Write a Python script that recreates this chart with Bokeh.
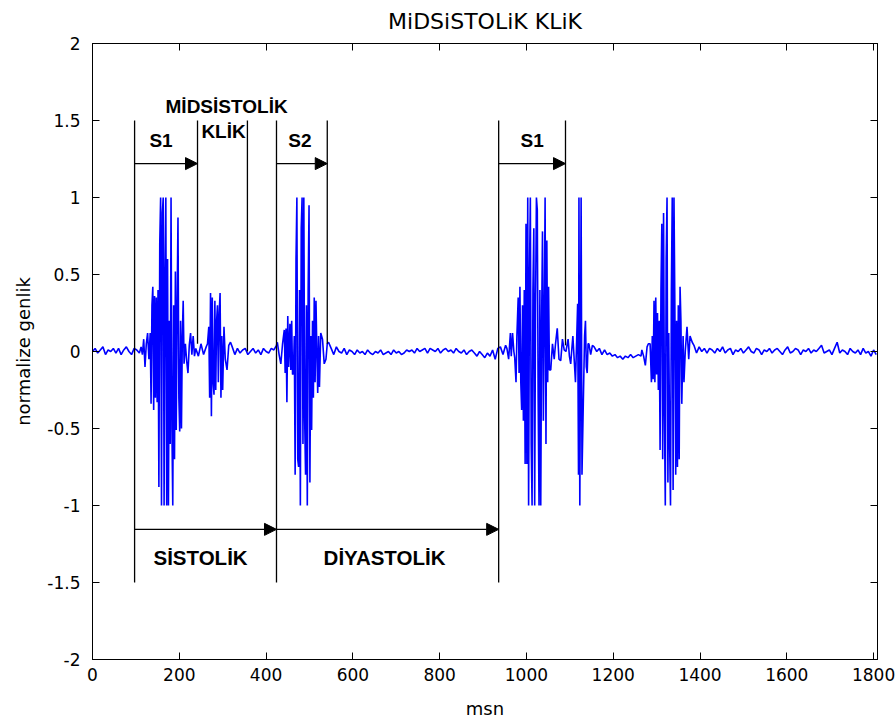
import numpy as np
from bokeh.plotting import figure
from bokeh.models import Range1d, LinearAxis, FixedTicker, Arrow, NormalHead, CustomLabelingPolicy
from bokeh.core.properties import value
from bokeh.embed import file_html
from bokeh.resources import INLINE

# ---------------- data ----------------
title_text = "MiDSiSTOLiK KLiK"
x_label = "msn"
y_label = "normalize genlik"

x_ticks = [0, 200, 400, 600, 800, 1000, 1200, 1400, 1600, 1800]
y_ticks = [-2, -1.5, -1, -0.5, 0, 0.5, 1, 1.5, 2]
y_tick_labels = ["-2", "-1.5", "-1", "-0.5", "0", "0.5", "1", "1.5", "2"]

# quiet (baseline) stretches: start time, sample step, amplitudes
quiet_a_start, quiet_a_step = 0, 6
quiet_a = [0.00, 0.02, -0.01, 0.01, 0.03, -0.02, 0.01, 0.00, 0.02, -0.01,
           0.02, -0.02, 0.01, 0.03, 0.00, -0.02, 0.02, 0.01, -0.01]
quiet_b_start, quiet_b_step = 238, 6
quiet_b = [0.02, -0.03, 0.05, -0.02, 0.03]
quiet_c_start, quiet_c_step = 322, 6
quiet_c = [0.03, -0.02, 0.02, -0.01, 0.01, 0.02, -0.02, 0.00, 0.02, -0.01,
           0.01, -0.02, 0.02, 0.00, -0.01, 0.02, 0.01, 0.04]
quiet_d_start, quiet_d_step = 550, 6
quiet_d = [0.02, -0.02, 0.03, 0.00, -0.01, 0.02, -0.02, 0.01, 0.00, -0.02,
           0.01, -0.01, 0.00, -0.02, 0.01, -0.01, -0.02, 0.00, -0.01, 0.01,
           -0.02, -0.01, 0.00, -0.02, 0.01, -0.01, 0.00, -0.02, -0.01, 0.01,
           0.00, 0.01, -0.01, 0.02, 0.00, 0.01, 0.02, -0.01, 0.02, 0.01,
           0.00, 0.02, -0.01, 0.01, 0.02, 0.00, 0.01, -0.01, 0.02, 0.00,
           -0.01, 0.01, -0.02, 0.00, 0.01, -0.01, -0.03, 0.00, -0.02, -0.04,
           -0.01, -0.03, 0.01, -0.05, 0.02, 0.03, -0.02, 0.04]
quiet_f_start, quiet_f_step = 1156, 6
quiet_f = [0.03, 0.00, 0.02, -0.02, 0.01, -0.02, -0.01, -0.03, -0.02, -0.04,
           -0.03, -0.05, -0.03, -0.04, -0.02, -0.04, -0.03, -0.02, -0.03]
quiet_g_start, quiet_g_step = 1386, 6
quiet_g = [0.04, -0.01, 0.03, 0.00, 0.02, -0.01, 0.02, 0.01, -0.01, 0.02,
           0.00, 0.03, -0.01, 0.01, 0.02, -0.02, 0.01, 0.00, 0.02, -0.01,
           0.01, 0.03, 0.00, -0.01, 0.02, 0.01, -0.02, 0.01, 0.00, 0.02,
           -0.01, 0.01, 0.02, 0.00, -0.02, 0.01, 0.03, -0.01, 0.00, 0.02,
           0.01, -0.02, 0.01, 0.00, 0.02, -0.01, 0.01, 0.00, 0.02, 0.04,
           -0.01, 0.00, 0.01, -0.02, 0.02, 0.06, -0.01, 0.01, 0.00, -0.02,
           0.02, 0.00, -0.01, 0.01, -0.02, 0.02, -0.01, 0.00, -0.03, 0.01,
           -0.02]

# first S1
s1a_t = [112, 115, 118, 121, 124, 127, 130, 133,
         135, 137, 139, 141, 143, 145, 147, 149, 151, 153,
         155, 157, 159, 161, 163, 165, 167, 169, 171, 173,
         175, 177, 179, 181, 183, 185, 187, 189, 191, 193,
         195, 197, 199, 201, 203, 205, 207, 209, 211,
         214, 217, 220, 223, 226, 229, 232, 235]
s1a_v = [0.03, -0.02, 0.08, -0.10, 0.05, 0.12, -0.05, 0.12,
         -0.34, 0.30, 0.42, -0.38, 0.36, -0.30, 0.35, -0.33, 0.40, -0.88,
         0.70, 1.00, -1.00, 0.90, 1.00, -1.00, 0.50, 1.00, -1.00, 0.60,
         -1.00, 0.20, -0.60, 1.00, -0.50, -1.00, 0.30, -0.70, 0.52, -0.51,
         0.30, 0.87, -0.30, -0.52, 0.20, -0.50, 0.10, 0.33, -0.08,
         0.05, -0.06, -0.14, 0.04, 0.12, -0.02, 0.10, -0.03]

# midsystolic click
click_t = [265, 268, 270, 272, 274, 276, 278, 280, 282, 284, 286, 288,
           290, 292, 294, 296, 298, 300, 303, 306, 310, 314, 318]
click_v = [0.05, 0.16, -0.30, 0.38, -0.42, 0.35, -0.20, -0.28, 0.33, -0.25, 0.20, 0.30,
           -0.20, 0.25, 0.38, -0.30, 0.10, -0.25, 0.16, -0.05, -0.12, 0.04, 0.06]

# first S2
s2a_t = [426, 430, 434, 438, 442, 444, 446, 448, 450, 452,
         455, 457, 459, 461, 463, 465, 467, 469, 471, 473,
         475, 477, 479, 481, 483, 485, 487, 489, 491, 493,
         495, 497, 499, 501, 503, 505, 507, 509, 511, 513,
         515, 517, 519, 521, 523, 526, 530, 534, 538, 541, 544]
s2a_v = [0.06, -0.02, -0.08, 0.05, 0.14, -0.14, 0.15, -0.33, 0.23, -0.10,
         0.18, -0.12, 0.20, -0.15, -0.14, 0.10, -0.80, 0.60, 1.00, -0.70,
         -0.75, 0.40, -1.00, 0.80, 1.00, -0.60, 1.00, -0.45, -0.80, 0.30,
         -1.00, 0.40, 0.95, -0.85, 0.10, -0.51, 0.20, -0.30, 0.35, -0.20,
         0.33, 0.00, -0.27, 0.10, -0.23, 0.12, 0.08, -0.08, -0.05, 0.05, 0.06]

# second S1 with the click right after it
s1b_t = [955, 959, 963, 965, 968, 971, 973, 976, 978, 981,
         983, 985, 987, 989, 991, 993, 995, 997, 999, 1001,
         1003, 1005, 1007, 1009, 1011, 1013, 1015, 1017, 1019, 1021,
         1023, 1025, 1027, 1029, 1031, 1033, 1035, 1037, 1039, 1041,
         1043, 1045, 1047, 1049, 1051, 1053, 1056, 1060, 1064, 1067,
         1071, 1075, 1079, 1083, 1087, 1091, 1096, 1099, 1102, 1105,
         1107, 1110, 1113, 1116, 1118, 1120, 1121, 1123, 1126, 1128,
         1131, 1134, 1136, 1138, 1140, 1142, 1144, 1148, 1152]
s1b_v = [0.02, -0.05, 0.12, -0.03, 0.12, 0.00, -0.04, -0.20, 0.10, 0.35,
         -0.14, 0.42, -0.20, -0.38, 0.30, -0.45, 0.40, -0.73, 0.83, -0.73,
         1.00, -1.00, 0.50, 1.00, -0.60, -1.00, 0.40, 0.80, -1.00, 0.30,
         1.00, 0.92, -0.30, -1.00, 0.40, -1.00, 0.20, 0.78, -0.45, 0.20,
         1.00, -0.60, 0.72, -0.20, 0.42, -0.12, -0.12, 0.05, -0.05, 0.05,
         0.15, -0.05, -0.06, 0.08, 0.01, 0.00, 0.08, -0.03, -0.08, 0.03,
         0.10, -0.05, -0.20, 0.10, 0.31, -0.80, 1.00, -1.00, 1.00, -0.80,
         -0.34, 0.10, 0.20, -0.10, -0.14, 0.05, 0.05, -0.02, 0.04]

# second S2
s2b_t = [1266, 1270, 1274, 1278, 1281, 1285, 1288, 1290, 1292, 1294,
         1296, 1298, 1300, 1302, 1304, 1306, 1308, 1310, 1312, 1314,
         1316, 1318, 1320, 1322, 1324, 1326, 1328, 1330, 1332, 1334,
         1336, 1338, 1340, 1342, 1344, 1346, 1348, 1350, 1352, 1354,
         1356, 1358, 1361, 1363, 1366, 1370, 1374, 1377, 1382]
s2b_v = [0.01, -0.03, -0.09, 0.03, 0.05, 0.05, -0.20, 0.10, -0.18, 0.33,
         -0.20, 0.35, -0.15, 0.25, -0.25, 0.20, -0.64, 0.40, 0.83, -0.70,
         0.90, -0.40, -1.00, 0.60, 1.00, -0.85, 0.12, -0.60, -1.00, 0.40,
         1.00, -0.90, 1.00, 0.30, -0.80, 0.20, -0.75, 0.30, -0.70, 0.42,
         0.20, -0.34, 0.10, -0.20, 0.00, 0.16, -0.05, 0.10, 0.06]

# annotation markers (msn / amplitude)
mark_x = [97, 242, 357, 424, 541, 936, 1090]
mark_top = [1.5, 1.5, 1.5, 1.5, 1.5, 1.5, 1.5]
mark_bottom = [-1.5, 0.05, 0.0, -1.5, 0.05, -1.5, 0.04]

arrow_x0 = [97, 424, 936, 97, 424]
arrow_x1 = [242, 541, 1090, 424, 936]
arrow_y = [1.22, 1.22, 1.22, -1.155, -1.155]

top_note_text = ["MİDSİSTOLİK", "KLİK", "S1", "S2", "S1"]
top_note_x = [309, 302, 158, 478, 1013]
top_note_y = [1.59, 1.428, 1.37, 1.37, 1.37]
low_note_text = ["SİSTOLİK", "DİYASTOLİK"]
low_note_x = [249, 673]
low_note_y = [-1.34, -1.34]

# ---------------- assemble signal ----------------
def quiet(start, step, vals):
    return [start + step * i for i in range(len(vals))], list(vals)

t_all, v_all = [], []
for st, sp, vals in [(quiet_a_start, quiet_a_step, quiet_a), (quiet_b_start, quiet_b_step, quiet_b),
                     (quiet_c_start, quiet_c_step, quiet_c), (quiet_d_start, quiet_d_step, quiet_d),
                     (quiet_f_start, quiet_f_step, quiet_f), (quiet_g_start, quiet_g_step, quiet_g)]:
    tt, vv = quiet(st, sp, vals)
    t_all += tt
    v_all += vv
for tt, vv in [(s1a_t, s1a_v), (click_t, click_v), (s2a_t, s2a_v), (s1b_t, s1b_v), (s2b_t, s2b_v)]:
    t_all += list(tt)
    v_all += list(vv)
order = np.argsort(np.array(t_all, dtype=float), kind="stable")
sig_t = np.array(t_all, dtype=float)[order]
sig_v = np.array(v_all, dtype=float)[order]

# ---------------- figure ----------------
FONT = "DejaVu Sans"
BOLD_FONT = "Liberation Sans"
p = figure(frame_width=785, frame_height=616, output_backend="svg", toolbar_location=None,
           x_range=Range1d(0, 1809), y_range=Range1d(-2, 2),
           min_border_left=92, min_border_right=19, min_border_top=43, min_border_bottom=65)
p.background_fill_color = "white"
p.border_fill_color = "white"
p.grid.visible = False
p.outline_line_color = "black"
p.outline_line_width = 1

p.title.text = title_text
p.title.align = "center"
p.title.text_font = FONT
p.title.text_font_size = "22px"
p.title.text_font_style = "normal"
p.title.text_color = "black"
p.title.standoff = 11

for ax in [p.xaxis[0], p.yaxis[0]]:
    ax.axis_line_color = "black"
    ax.major_tick_line_color = "black"
    ax.major_tick_in = 7
    ax.major_tick_out = 0
    ax.minor_tick_line_color = None
    ax.major_label_text_font = FONT
    ax.major_label_text_font_size = "17px"
    ax.major_label_text_color = "black"
    ax.axis_label_text_font = FONT
    ax.axis_label_text_font_size = "18px"
    ax.axis_label_text_font_style = "normal"
    ax.axis_label_text_color = "black"

p.xaxis.ticker = FixedTicker(ticks=x_ticks)
p.yaxis.ticker = FixedTicker(ticks=y_ticks)
p.yaxis.major_label_overrides = {t: s for t, s in zip(y_ticks, y_tick_labels)}
p.xaxis.axis_label = x_label
p.yaxis.axis_label = y_label
p.xaxis.major_label_standoff = 8
p.yaxis.major_label_standoff = 12
p.xaxis.axis_label_standoff = 14
p.yaxis.axis_label_standoff = 10

hide_all = "for (const i of [...indices]) { indices.unset(i) } return indices"
top = LinearAxis(ticker=FixedTicker(ticks=x_ticks), major_tick_in=7, major_tick_out=0,
                 minor_tick_line_color=None, axis_line_color="black",
                 major_label_standoff=0, major_label_text_font_size="1px",
                 major_label_policy=CustomLabelingPolicy(code=hide_all))
right = LinearAxis(ticker=FixedTicker(ticks=y_ticks), major_tick_in=7, major_tick_out=0,
                   minor_tick_line_color=None, axis_line_color="black",
                   major_label_standoff=0, major_label_text_font_size="1px",
                   major_label_policy=CustomLabelingPolicy(code=hide_all))
p.add_layout(top, "above")
p.add_layout(right, "right")

# signal
p.line(sig_t, sig_v, line_color="#0000FF", line_width=1.6)

# annotation lines
p.segment(x0=mark_x, y0=mark_top, x1=mark_x, y1=mark_bottom, line_color="black", line_width=1.3)
for x0, x1, y in zip(arrow_x0, arrow_x1, arrow_y):
    p.add_layout(Arrow(end=NormalHead(size=12, fill_color="black", line_color="black"),
                       x_start=x0, y_start=y, x_end=x1, y_end=y,
                       line_color="black", line_width=1.3))

p.text(x=top_note_x, y=top_note_y, text=top_note_text, text_font=value(BOLD_FONT), text_font_style="bold",
       text_font_size="19px", text_align="center", text_baseline="alphabetic", text_color="black")
p.text(x=low_note_x, y=low_note_y, text=low_note_text, text_font=value(BOLD_FONT), text_font_style="bold",
       text_font_size="20.5px", text_align="center", text_baseline="alphabetic", text_color="black")

open("out.html", "w").write(file_html(p, INLINE))
